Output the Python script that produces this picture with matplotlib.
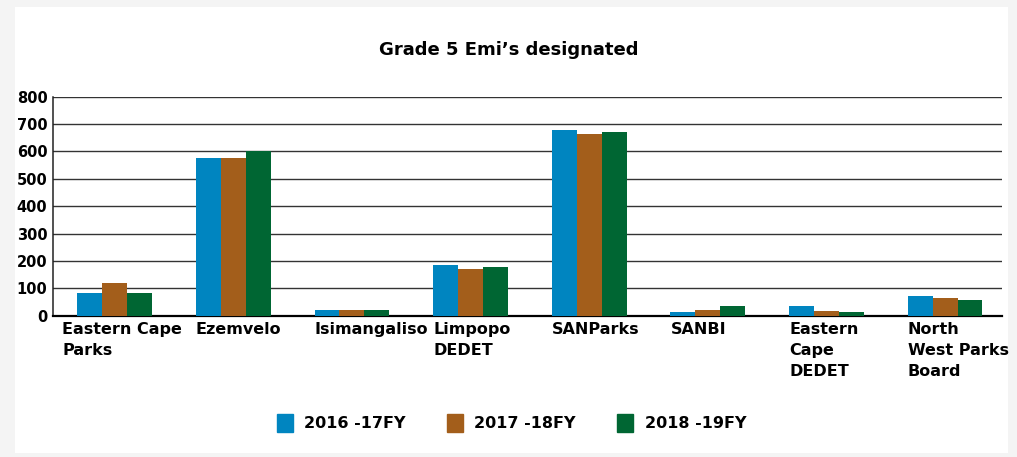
import matplotlib.pyplot as plt
import matplotlib.patches as mpatches
import numpy as np

plt.rcParams['font.family'] = 'DejaVu Sans'
plt.rcParams['font.weight'] = 'bold'

categories = ["Eastern Cape\nParks", "Ezemvelo", "Isimangaliso", "Limpopo\nDEDET",
              "SANParks", "SANBI", "Eastern\nCape\nDEDET", "North\nWest Parks\nBoard"]
series = ["2016 -17FY", "2017 -18FY", "2018 -19FY"]
fy2016 = [84, 577, 22, 185, 679, 14, 37, 73]
fy2017 = [121, 577, 22, 170, 663, 20, 16, 65]
fy2018 = [84, 600, 22, 178, 672, 34, 12, 59]
yticks = [0, 100, 200, 300, 400, 500, 600, 700, 800]

colors = ["#0085c0", "#a35e1b", "#006633"]

fig = plt.figure(figsize=(10.17, 4.57), dpi=100, facecolor="#f4f4f4")
# white card
fig.patches.append(mpatches.Rectangle((15 / 1017, 0.009), 993 / 1017, 0.975,
                                      transform=fig.transFigure, facecolor="white",
                                      edgecolor="none", zorder=0))

ax = fig.add_axes([53 / 1017, 1 - 315.7 / 457, 949 / 1017, 219 / 457])
ax.set_zorder(2)
ax.set_facecolor("white")

x = np.arange(len(categories))
w = 0.21
for i, (vals, c, name) in enumerate(zip([fy2016, fy2017, fy2018], colors, series)):
    ax.bar(x + (i - 1) * w + 0.02, vals, w, color=c, label=name, zorder=3)

ax.set_xlim(-0.5, len(categories) - 0.5)
ax.set_ylim(0, 800)
ax.set_yticks(yticks)
ax.set_yticklabels([str(t) for t in yticks], fontsize=10.5, fontweight='bold')
ax.tick_params(axis='y', length=0, pad=4)
ax.grid(axis='y', color='#333333', linewidth=1.0, zorder=1)

for s in ['top', 'right']:
    ax.spines[s].set_visible(False)
ax.spines['left'].set_color('#222222')
ax.spines['left'].set_linewidth(1.1)
ax.spines['bottom'].set_color('black')
ax.spines['bottom'].set_linewidth(1.6)

# left-aligned wrapped category labels
label_x = x - 1.5 * w + 0.02
label_x[0] = -0.424
ax.set_xticks([])
for lx, lab in zip(label_x, categories):
    ax.text(lx, -0.03, lab, transform=ax.get_xaxis_transform(), ha='left', va='top',
            fontsize=11.5, fontweight='bold', linespacing=1.5)

fig.text(0.5, 1 - 50 / 457, "Grade 5 Emi\u2019s designated", ha='center', va='center',
         fontsize=13, fontweight='bold')

handles = [mpatches.Patch(color=c, label=s) for c, s in zip(colors, series)]
fig.legend(handles=handles, loc='center', bbox_to_anchor=(0.503, 1 - 423 / 457), ncol=3,
           frameon=False, fontsize=11.5, handlelength=1.0, handleheight=1.4,
           handletextpad=0.7, columnspacing=2.6)

fig.savefig("out.png", dpi=100, facecolor=fig.get_facecolor())
